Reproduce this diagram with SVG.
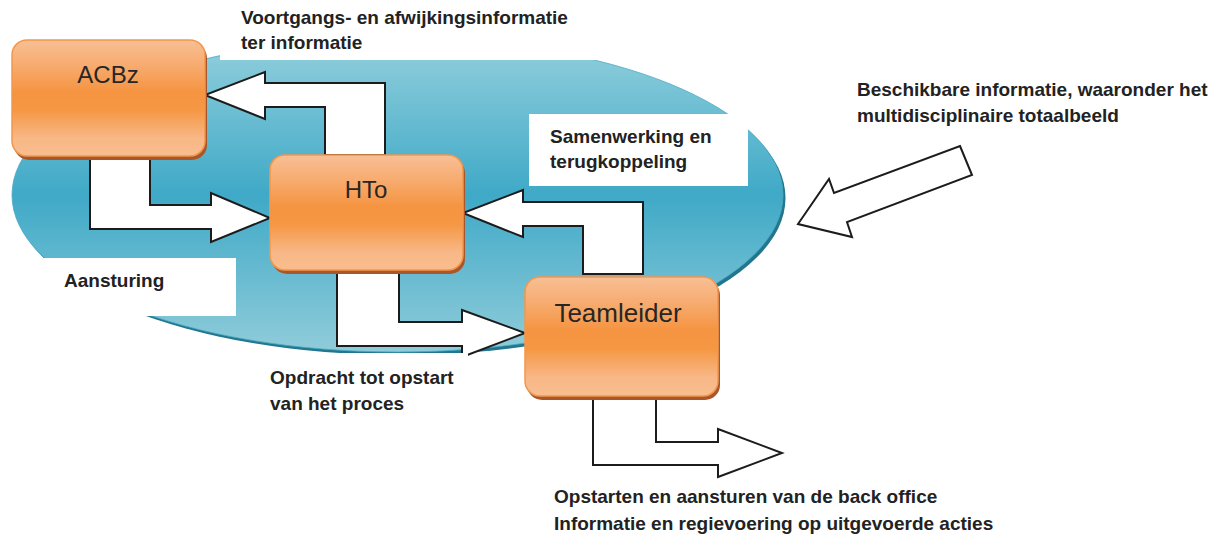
<svg xmlns="http://www.w3.org/2000/svg" width="1223" height="542" viewBox="0 0 1223 542">
<defs>
<linearGradient id="gEll" x1="0" y1="0" x2="0" y2="1">
<stop offset="0" stop-color="#94d0dd"/>
<stop offset="0.5" stop-color="#3fa9c7"/>
<stop offset="1" stop-color="#90ccda"/>
</linearGradient>
<linearGradient id="gNode" x1="0" y1="0" x2="0" y2="1">
<stop offset="0" stop-color="#f8bf94"/>
<stop offset="0.2" stop-color="#f7ad73"/>
<stop offset="0.45" stop-color="#f59441"/>
<stop offset="0.6" stop-color="#f59743"/>
<stop offset="0.85" stop-color="#f8b887"/>
<stop offset="1" stop-color="#f8bd8f"/>
</linearGradient>
</defs>
<style>
.node{fill:url(#gNode);stroke:#f4974c;stroke-width:1.5}
.shadow{fill:#a9562a}
.ntext{font-family:"Liberation Sans",Arial,sans-serif;fill:#262626;text-anchor:middle}
.arrow{fill:#ffffff;stroke:#1c1c1c;stroke-width:2;stroke-linejoin:miter}
.lbl{font-family:"Liberation Sans",Arial,sans-serif;font-weight:bold;font-size:19px;fill:#222222}
.box{fill:#ffffff}
</style>
<rect width="1223" height="542" fill="#ffffff"/>
<g id="background">
<ellipse cx="400" cy="198" rx="385.5" ry="157" fill="#22768e"/>
<ellipse cx="397.5" cy="195" rx="385.5" ry="157" fill="url(#gEll)" stroke="#4aa9c4" stroke-width="0.8"/>
</g>
<g id="connectors">
<path id="c-hto-acbz" class="arrow" d="M325,155 L325,107 L265,107 L265,119 L205,95 L265,72 L265,83 L385,83 L385,155 Z"/>
<path id="c-acbz-hto" class="arrow" d="M90,157 L90,229 L211,229 L211,242 L270,218 L211,193 L211,205 L150,205 L150,157 Z"/>
<path id="c-team-hto" class="arrow" d="M583,274 L583,226 L523,226 L523,237 L463,213 L523,190 L523,202 L643,202 L643,274 Z"/>
<path id="c-hto-team" class="arrow" d="M337,273 L337,346 L462,346 L462,357 L525,333 L462,310 L462,322 L399,322 L399,273 Z"/>
<path id="c-team-out" class="arrow" d="M593,393 L593,465 L718,465 L718,477 L782,453 L718,429 L718,442 L656,442 L656,393 Z"/>
<path id="c-in" class="arrow" d="M960,146 L972,175 L847,222 L852,237 L798,224 L829,179 L834,193 Z"/>
</g>
<g id="labels">
<g id="lbl-voortgang">
<rect class="box" x="220" y="0" width="380" height="60"/>
<text class="lbl" x="241" y="24">Voortgangs- en afwijkingsinformatie</text>
<text class="lbl" x="241" y="49">ter informatie</text>
</g>
<g id="lbl-samenwerking">
<rect class="box" x="529" y="114" width="219" height="72"/>
<text class="lbl" x="550" y="143">Samenwerking en</text>
<text class="lbl" x="550" y="168">terugkoppeling</text>
</g>
<g id="lbl-aansturing">
<rect class="box" x="38" y="258" width="198" height="58"/>
<text class="lbl" x="64" y="287">Aansturing</text>
</g>
<g id="lbl-opdracht">
<rect class="box" x="240" y="353" width="228" height="70"/>
<text class="lbl" x="270" y="384">Opdracht tot opstart</text>
<text class="lbl" x="270" y="410">van het proces</text>
</g>
<g id="lbl-beschikbaar">
<text class="lbl" x="857" y="96">Beschikbare informatie, waaronder het</text>
<text class="lbl" x="857" y="122">multidisciplinaire totaalbeeld</text>
</g>
<g id="lbl-backoffice">
<text class="lbl" x="554" y="503">Opstarten en aansturen van de back office</text>
<text class="lbl" x="554" y="530">Informatie en regievoering op uitgevoerde acties</text>
</g>
</g>
<g id="node-acbz">
<rect class="shadow" x="14" y="43" width="193" height="117" rx="15"/>
<rect class="node" x="12" y="40" width="193" height="116" rx="15"/>
<text class="ntext" x="108" y="83" font-size="24">ACBz</text>
</g>
<g id="node-hto">
<rect class="shadow" x="272" y="158" width="193" height="116" rx="15"/>
<rect class="node" x="270" y="155" width="193" height="115" rx="15"/>
<text class="ntext" x="366" y="198" font-size="24">HTo</text>
</g>
<g id="node-teamleider">
<rect class="shadow" x="527" y="280" width="193" height="120" rx="15"/>
<rect class="node" x="525" y="277" width="193" height="119" rx="15"/>
<text class="ntext" x="618" y="322" font-size="26">Teamleider</text>
</g>
</svg>
